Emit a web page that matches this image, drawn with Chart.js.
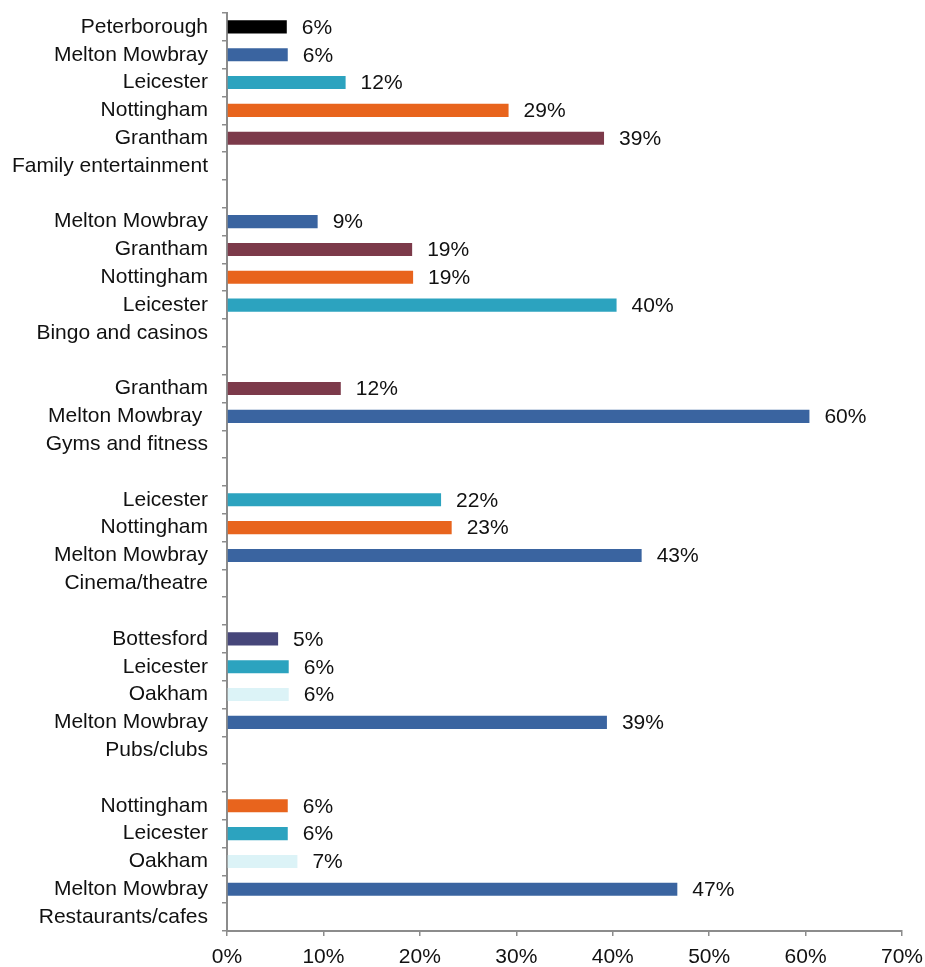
<!DOCTYPE html>
<html>
<head>
<meta charset="utf-8">
<script src="https://cdn.jsdelivr.net/npm/chart.js@4.4.1/dist/chart.umd.min.js"></script>
<style>
  body { margin: 0; background: #fff; }
  #wrap { width: 925px; height: 967px; }
</style>
</head>
<body>
<div id="wrap"><canvas id="leisureChart" width="925" height="967"></canvas></div>
<script>
// linhas do eixo (de cima para baixo); '' = linha vazia entre grupos
const categorias = [
  'Peterborough', 'Melton Mowbray', 'Leicester', 'Nottingham', 'Grantham', 'Family entertainment', '',
  'Melton Mowbray', 'Grantham', 'Nottingham', 'Leicester', 'Bingo and casinos', '',
  'Grantham', 'Melton Mowbray ', 'Gyms and fitness', '',
  'Leicester', 'Nottingham', 'Melton Mowbray', 'Cinema/theatre', '',
  'Bottesford', 'Leicester', 'Oakham', 'Melton Mowbray', 'Pubs/clubs', '',
  'Nottingham', 'Leicester', 'Oakham', 'Melton Mowbray', 'Restaurants/cafes'
];

// percentagem por linha (null = sem barra)
const percentagens = [
  6.2, 6.3, 12.3, 29.2, 39.1, null, null,
  9.4, 19.2, 19.3, 40.4, null, null,
  11.8, 60.4, null, null,
  22.2, 23.3, 43.0, null, null,
  5.3, 6.4, 6.4, 39.4, null, null,
  6.3, 6.3, 7.3, 46.7, null
];

const ticksX = [0, 10, 20, 30, 40, 50, 60, 70];

// cor de cada cidade
const coresCidade = {
  'Peterborough': '#000000',
  'Melton Mowbray': '#3a64a0',
  'Leicester': '#2ca3bf',
  'Nottingham': '#e8641d',
  'Grantham': '#7c3a4a',
  'Bottesford': '#46467a',
  'Oakham': '#dcf3f7'
};

const cores = categorias.map(c => coresCidade[c.trim()] || '#ffffff');

const corEixo = '#8c8c8c';
const fonte = { family: "'Liberation Sans', Arial, sans-serif", size: 21 };

// rótulos de valor à direita de cada barra
const rotulosValor = {
  id: 'rotulosValor',
  afterDatasetsDraw(chart) {
    const ctx = chart.ctx;
    const meta = chart.getDatasetMeta(0);
    ctx.save();
    ctx.font = fonte.size + 'px ' + fonte.family;
    ctx.fillStyle = '#111';
    ctx.textAlign = 'left';
    ctx.textBaseline = 'middle';
    meta.data.forEach((bar, i) => {
      const v = percentagens[i];
      if (v === null) return;
      ctx.fillText(Math.round(v) + '%', bar.x + 15, bar.y + 1);
    });
    ctx.restore();
  }
};

new Chart(document.getElementById('leisureChart').getContext('2d'), {
  type: 'bar',
  data: {
    labels: categorias,
    datasets: [{
      data: percentagens,
      backgroundColor: cores,
      borderWidth: 0,
      barPercentage: 0.47,
      categoryPercentage: 1
    }]
  },
  options: {
    indexAxis: 'y',
    responsive: false,
    animation: false,
    layout: { padding: { top: 13, right: 23, bottom: 0, left: 0 } },
    plugins: { legend: { display: false }, tooltip: { enabled: false } },
    scales: {
      y: {
        afterFit(scale) {
          scale.width = 227;
          scale.paddingTop = 0;
          scale.paddingBottom = 0;
        },
        grid: { drawOnChartArea: false, drawTicks: true, tickLength: 5, color: corEixo, lineWidth: 1.5 },
        border: { display: true, color: corEixo, width: 2 },
        ticks: { color: '#111', font: fonte, padding: 14, autoSkip: false }
      },
      x: {
        min: 0,
        max: 70,
        afterFit(scale) {
          scale.height = 36;
          scale.paddingLeft = 0;
          scale.paddingRight = 0;
        },
        afterBuildTicks(scale) { scale.ticks = ticksX.map(v => ({ value: v })); },
        grid: { drawOnChartArea: false, drawTicks: true, tickLength: 5, color: corEixo, lineWidth: 1.5 },
        border: { display: true, color: corEixo, width: 2 },
        ticks: { color: '#111', font: fonte, padding: 9, callback: v => v + '%' }
      }
    }
  },
  plugins: [rotulosValor]
});
</script>
</body>
</html>
